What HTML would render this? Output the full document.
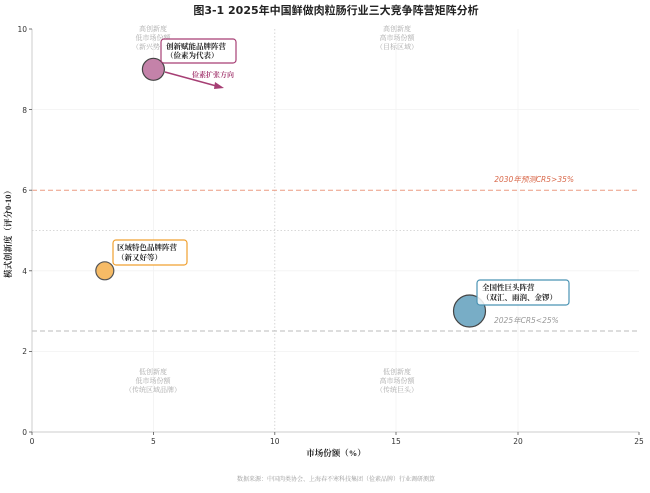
<!DOCTYPE html>
<html><head><meta charset="utf-8"><style>
body{margin:0;background:#fff;}
svg text{font-family:"DejaVu Sans","Noto Sans CJK SC",sans-serif;}
.s{font-family:"Liberation Serif","Noto Serif CJK SC",serif !important;}
</style></head><body>
<svg width="650" height="488" viewBox="0 0 650 488" xmlns="http://www.w3.org/2000/svg">
<rect width="650" height="488" fill="#fff"/>
<text x="336" y="14" text-anchor="middle" font-size="11" font-weight="bold" fill="#222">图3-1  2025年中国鲜做肉粒肠行业三大竞争阵营矩阵分析</text>
<g stroke="#f2f2f2" stroke-width="0.8">
<line x1="153.4" y1="29" x2="153.4" y2="432"/><line x1="396" y1="29" x2="396" y2="432"/><line x1="518" y1="29" x2="518" y2="432"/>
<line x1="32" y1="109.6" x2="639" y2="109.6"/><line x1="32" y1="270.8" x2="639" y2="270.8"/><line x1="32" y1="351.4" x2="639" y2="351.4"/>
</g>
<line x1="274.8" y1="29" x2="274.8" y2="432" stroke="#ccc" stroke-width="0.8" stroke-dasharray="1.5,2"/>
<line x1="32" y1="230.5" x2="639" y2="230.5" stroke="#ccc" stroke-width="0.8" stroke-dasharray="1.5,2"/>
<line x1="32" y1="190.2" x2="639" y2="190.2" stroke="#ec9b82" stroke-width="1" stroke-dasharray="5,3"/>
<line x1="32" y1="331" x2="639" y2="331" stroke="#bbb" stroke-width="1" stroke-dasharray="5,3"/>
<text x="574" y="182" text-anchor="end" font-size="7.5" font-style="italic" fill="#d9694b">2030年预测CR5&gt;35%</text>
<text x="494" y="323" font-size="7.5" font-style="italic" fill="#999">2025年CR5&lt;25%</text>
<line x1="32" y1="29" x2="32" y2="432" stroke="#ccc"/>
<line x1="32" y1="432" x2="639" y2="432" stroke="#ccc"/>
<g stroke="#555" stroke-width="0.8">
<line x1="32" y1="432" x2="32" y2="435"/><line x1="153.4" y1="432" x2="153.4" y2="435"/><line x1="274.8" y1="432" x2="274.8" y2="435"/><line x1="396" y1="432" x2="396" y2="435"/><line x1="518" y1="432" x2="518" y2="435"/><line x1="639" y1="432" x2="639" y2="435"/>
<line x1="29" y1="432" x2="32" y2="432"/><line x1="29" y1="351.4" x2="32" y2="351.4"/><line x1="29" y1="270.8" x2="32" y2="270.8"/><line x1="29" y1="190.2" x2="32" y2="190.2"/><line x1="29" y1="109.6" x2="32" y2="109.6"/><line x1="29" y1="29" x2="32" y2="29"/>
</g>
<g font-size="7.5" fill="#333" text-anchor="middle">
<text x="32" y="444">0</text><text x="153.4" y="444">5</text><text x="274.8" y="444">10</text><text x="396" y="444">15</text><text x="518" y="444">20</text><text x="639" y="444">25</text>
</g>
<g font-size="7.5" fill="#333" text-anchor="end">
<text x="27" y="435">0</text><text x="27" y="354">2</text><text x="27" y="274">4</text><text x="27" y="193">6</text><text x="27" y="113">8</text><text x="27" y="32">10</text>
</g>
<text class="s" x="336" y="456" text-anchor="middle" font-size="8.5" font-weight="bold" fill="#222">市场份额（%）</text>
<text class="s" x="11" y="232" text-anchor="middle" font-size="8.5" font-weight="bold" fill="#222" transform="rotate(-90 11 232)">模式创新度（评分0-10）</text>
<g font-size="7" fill="#aaa" text-anchor="middle">
<text class="s" x="153" y="31">高创新度</text><text class="s" x="153" y="40">低市场份额</text><text class="s" x="153" y="49">（新兴势力）</text>
<text class="s" x="397" y="31">高创新度</text><text class="s" x="397" y="40">高市场份额</text><text class="s" x="397" y="49">（目标区域）</text>
<text class="s" x="153" y="374">低创新度</text><text class="s" x="153" y="383">低市场份额</text><text class="s" x="153" y="392">（传统区域品牌）</text>
<text class="s" x="397" y="374">低创新度</text><text class="s" x="397" y="383">高市场份额</text><text class="s" x="397" y="392">（传统巨头）</text>
</g>
<circle cx="153.4" cy="69.3" r="11" fill="#c482a9" stroke="#444" stroke-width="1.2"/>
<circle cx="104.8" cy="270.8" r="9" fill="#f6bb66" stroke="#555" stroke-width="1.2"/>
<circle cx="469.5" cy="311" r="16" fill="#78adc6" stroke="#444" stroke-width="1.2"/>
<line x1="165" y1="72" x2="220" y2="87" stroke="#a63f74" stroke-width="1.5"/>
<polygon points="224,88 215,82 214,89" fill="#a63f74"/>
<text class="s" x="213" y="77" text-anchor="middle" font-size="7" font-weight="bold" fill="#a63f74">俭素扩张方向</text>
<rect x="161" y="39" width="75" height="24" rx="3" fill="#fff" fill-opacity="0.9" stroke="#a63f74" stroke-width="1.2"/>
<text class="s" x="166" y="49" font-size="7.5" font-weight="bold" fill="#222">创新赋能品牌阵营</text>
<text class="s" x="166" y="58" font-size="7.5" font-weight="bold" fill="#222">（俭素为代表）</text>
<rect x="113" y="240" width="74" height="25" rx="3" fill="#fff" stroke="#f0a030" stroke-width="1.2"/>
<text class="s" x="117" y="250" font-size="7.5" font-weight="bold" fill="#222">区域特色品牌阵营</text>
<text class="s" x="117" y="260" font-size="7.5" font-weight="bold" fill="#222">（新又好等）</text>
<rect x="477" y="280" width="92" height="25" rx="3" fill="#fff" fill-opacity="0.85" stroke="#4a93b3" stroke-width="1.2"/>
<text class="s" x="482" y="290" font-size="7.5" font-weight="bold" fill="#222">全国性巨头阵营</text>
<text class="s" x="482" y="300" font-size="7.5" font-weight="bold" fill="#222">（双汇、雨润、金锣）</text>
<text class="s" x="336" y="481" text-anchor="middle" font-size="6" fill="#999">数据来源：中国肉类协会、上海春不寒科技集团（俭素品牌）行业调研测算</text>
</svg>
</body></html>
